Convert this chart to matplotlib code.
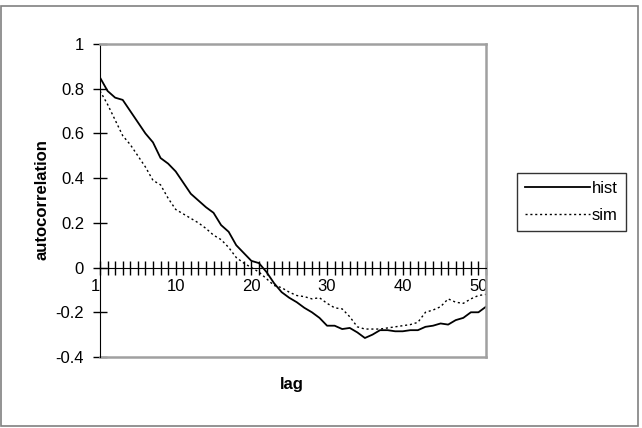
import numpy as np
import matplotlib
matplotlib.use("Agg")
import matplotlib.pyplot as plt
from matplotlib.patches import Rectangle

plt.rcParams['font.family'] = ['Liberation Sans', 'DejaVu Sans']

# autocorrelation by lag
lag_idx = list(range(52))
hist = [0.85, 0.79, 0.76, 0.75, 0.70, 0.65, 0.60, 0.56, 0.49, 0.465,
        0.43, 0.38, 0.33, 0.30, 0.27, 0.245, 0.19, 0.16, 0.10, 0.065,
        0.03, 0.02, -0.02, -0.07, -0.11, -0.135, -0.155, -0.18, -0.20, -0.225,
        -0.26, -0.26, -0.275, -0.27, -0.29, -0.315, -0.30, -0.28, -0.28, -0.285,
        -0.285, -0.28, -0.28, -0.265, -0.26, -0.25, -0.255, -0.235, -0.225, -0.20,
        -0.20, -0.175]
sim = [0.79, 0.73, 0.66, 0.59, 0.55, 0.50, 0.45, 0.39, 0.37, 0.31,
       0.26, 0.24, 0.22, 0.20, 0.175, 0.145, 0.125, 0.09, 0.045, 0.02,
       0.00, -0.02, -0.05, -0.08, -0.09, -0.11, -0.125, -0.13, -0.14, -0.135,
       -0.16, -0.18, -0.185, -0.22, -0.265, -0.275, -0.275, -0.275, -0.27, -0.265,
       -0.26, -0.255, -0.245, -0.20, -0.19, -0.175, -0.14, -0.155, -0.16, -0.14,
       -0.125, -0.12]
xtick_pos = [0, 10, 20, 30, 40, 50]
xtick_labels = ["1", "10", "20", "30", "40", "50"]
yticks = [-0.4, -0.2, 0, 0.2, 0.4, 0.6, 0.8, 1]
ytick_labels = ["-0.4", "-0.2", "0", "0.2", "0.4", "0.6", "0.8", "1"]

fs = 12
fig = plt.figure(figsize=(6.42, 4.28), dpi=100)
# outer frame
fig.patches.append(Rectangle((1/642, 2/428), 637/642, 420/428, transform=fig.transFigure,
                             fill=False, edgecolor='#808080', lw=1.2))

ax = fig.add_axes([100/642, 1-357/428, 386/642, 313/428])
ax.plot(lag_idx, hist, color='black', lw=1.3, label='hist')
ax.plot(lag_idx, sim, color='black', lw=1.0, linestyle=(0, (1.5, 2)), label='sim')

ax.set_xlim(0, 51)
ax.set_ylim(-0.4, 1)

# x axis sits on zero
ax.spines['bottom'].set_position(('data', 0))
ax.spines['bottom'].set_color('black')
ax.spines['left'].set_color('black')
ax.spines['top'].set_color('#a0a0a0')
ax.spines['right'].set_color('#a0a0a0')
ax.spines['top'].set_linewidth(1.8)
ax.spines['right'].set_linewidth(1.8)
ax.plot([0, 1], [0, 0], transform=ax.transAxes, color='#a0a0a0', lw=1.8, clip_on=False)

ax.set_xticks(xtick_pos)
ax.set_xticklabels(xtick_labels, fontsize=fs)
ax.get_xticklabels()[0].set_horizontalalignment('right')
ax.set_xticks(range(0, 52), minor=True)
ax.tick_params(axis='x', which='both', direction='inout', length=10, width=1, pad=3)
ax.set_yticks(yticks)
ax.set_yticklabels(ytick_labels, fontsize=fs)
ax.tick_params(axis='y', direction='inout', length=10, width=1, pad=6.5)

fig.text(292/642, 1-385/428, 'lag', fontsize=fs, fontweight='bold', ha='center', va='center')
fig.text(42/642, 1-200/428, 'autocorrelation', fontsize=fs, fontweight='bold',
         rotation=90, ha='center', va='center')

leg = ax.legend(loc='center left', bbox_to_anchor=(517/642, 1-202/428),
                bbox_transform=fig.transFigure, fontsize=fs, frameon=True,
                fancybox=False, handlelength=3.9, handletextpad=0.1,
                borderpad=0.5, labelspacing=0.7, borderaxespad=0)
leg.get_frame().set_edgecolor('black')
leg.get_frame().set_linewidth(1)

plt.savefig("out.png", dpi=100)
